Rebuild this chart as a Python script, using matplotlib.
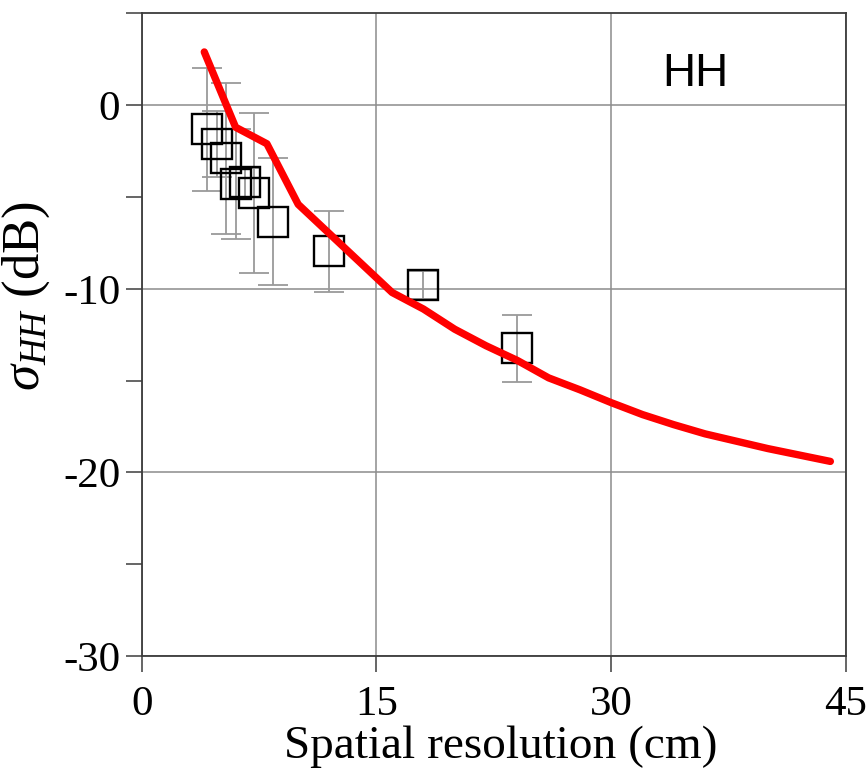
import matplotlib
matplotlib.use("Agg")
import matplotlib.pyplot as plt
from matplotlib.ticker import FixedLocator, FuncFormatter

plt.rcParams["font.family"] = ["Liberation Serif", "DejaVu Serif"]
plt.rcParams["mathtext.fontset"] = "custom"
plt.rcParams["mathtext.rm"] = "Liberation Serif"
plt.rcParams["mathtext.it"] = "Liberation Serif:italic"

# Measured backscatter (squares with symmetric error bars)
res_meas = [4.2, 4.8, 5.4, 6.0, 6.6, 7.2, 8.4, 12.0, 18.0, 24.0]
sigma_meas = [-1.3, -2.1, -2.9, -4.3, -4.2, -4.8, -6.35, -7.95, -9.8, -13.25]
sigma_err = [3.35, 1.8, 4.1, 3.0, 0.8, 4.35, 3.45, 2.2, 0.75, 1.85]

# Model curve
res_model = [4, 6, 8, 10, 12, 14, 16, 18, 20, 22, 24, 26, 28, 30, 32, 34, 36,
             38, 40, 42, 44]
sigma_model = [2.9, -1.2, -2.1, -5.4, -7.0, -8.6, -10.2, -11.1, -12.2, -13.1,
               -13.9, -14.85, -15.5, -16.2, -16.85, -17.4, -17.9, -18.3,
               -18.7, -19.05, -19.4]

xticks = [0, 15, 30, 45]
yticks_major = [0, -10, -20, -30]
yticks_minor = [5, -5, -15, -25]

fig = plt.figure(figsize=(8.67, 7.70), dpi=100)
ax = fig.add_axes([0.1634, 0.148, 0.8124, 0.8346])

ax.errorbar(res_meas, sigma_meas, yerr=sigma_err, fmt="none",
            ecolor="#9a9a9a", elinewidth=1.3, capsize=10.5, capthick=1.3,
            zorder=2)
ax.plot(res_meas, sigma_meas, linestyle="none", marker="s", markersize=21.5,
        markerfacecolor="none", markeredgecolor="black", markeredgewidth=1.7,
        zorder=3)
ax.plot(res_model, sigma_model, color="#ff0000", linewidth=5.3,
        solid_capstyle="round", solid_joinstyle="round", zorder=4)

ax.set_xlim(0, 45)
ax.set_ylim(-30, 5)
ax.xaxis.set_major_locator(FixedLocator(xticks))
ax.yaxis.set_major_locator(FixedLocator(yticks_major))
ax.yaxis.set_minor_locator(FixedLocator(yticks_minor))
ax.yaxis.set_major_formatter(FuncFormatter(lambda v, p: f"{v:.0f}".replace("\u2212", "-")))

ax.grid(True, which="major", color="#8c8c8c", linewidth=1.1)
ax.set_axisbelow(True)
for s in ax.spines.values():
    s.set_color("#3c3c3c")
    s.set_linewidth(1.3)

ax.tick_params(axis="both", which="both", direction="out", length=11.5,
               width=1.1, color="#3c3c3c", labelsize=31)
ax.tick_params(axis="x", pad=10)
ax.tick_params(axis="y", pad=4)

ax.set_xlabel("Spatial resolution (cm)", fontsize=34)
ax.set_ylabel(r"$\mathit{\sigma}_{HH}$ (dB)", fontsize=38)
ax.xaxis.set_label_coords(0.51, -0.108)
ax.yaxis.set_label_coords(-0.127, 0.56)

ax.text(0.786, 0.905, "HH", transform=ax.transAxes, ha="center", va="center",
        fontsize=33, family=["Liberation Sans", "DejaVu Sans"])

fig.savefig("out.png", dpi=100)
